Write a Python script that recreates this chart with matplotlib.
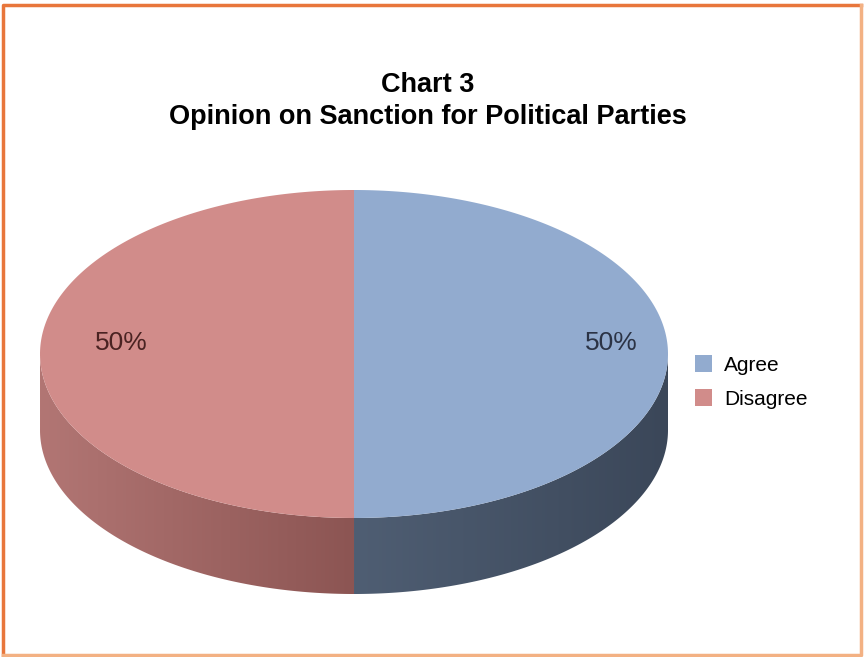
import numpy as np
import matplotlib
matplotlib.use("Agg")
import matplotlib.pyplot as plt
import matplotlib.patches as mpatches
from matplotlib.lines import Line2D
from matplotlib.colors import LinearSegmentedColormap

# datos
categorias = ["Agree", "Disagree"]
valores = [50, 50]
colores_top = ["#92abcf", "#d18c8a"]
colores_lado = [("#4f5e73", "#3b4759"), ("#b27674", "#8c5553")]   # (izq, der)
colores_label = ["#2b3345", "#4a2322"]
titulo = ["Chart 3", "Opinion on Sanction for Political Parties"]

W, H = 864, 657
fig = plt.figure(figsize=(W / 100, H / 100), dpi=100)
ax = fig.add_axes([0, 0, 1, 1])
ax.set_xlim(0, W)
ax.set_ylim(0, H)
ax.axis("off")

# geometría de la tarta 3D (en píxeles, y hacia arriba)
cx, cy = 354, H - 354
a, b = 314, 164
prof = 76


def arco(t1, t2, dy=0, n=200):
    t = np.radians(np.linspace(t1, t2, n))
    return np.column_stack([cx + a * np.cos(t), cy + b * np.sin(t) - dy])


total = sum(valores)
angulo = 90.0
tramos = []
for v in valores:
    t1 = angulo
    t2 = angulo - v / total * 360
    tramos.append((t1, t2))
    angulo = t2

# caras laterales (solo la mitad frontal)
for (t1, t2), (c_izq, c_der) in zip(tramos, colores_lado):
    lo, hi = min(t1, t2), max(t1, t2)
    segs = []
    for off in (0, -360, 360):
        s, e = max(lo + off, -180), min(hi + off, 0)
        if e > s:
            segs.append((s, e))
    for s, e in segs:
        top = arco(s, e)
        bot = arco(e, s, dy=prof)
        poly = np.vstack([top, bot])
        patch = mpatches.Polygon(poly, closed=True, facecolor="none", edgecolor="none")
        ax.add_patch(patch)
        cmap = LinearSegmentedColormap.from_list("lado", [c_izq, c_der])
        grad = np.linspace(0, 1, 256).reshape(1, -1)
        x0, x1 = poly[:, 0].min(), poly[:, 0].max()
        y0, y1 = poly[:, 1].min(), poly[:, 1].max()
        im = ax.imshow(grad, cmap=cmap, extent=[x0, x1, y0, y1], aspect="auto",
                       origin="lower", zorder=1)
        im.set_clip_path(patch)

# caras superiores
handles = []
for (t1, t2), col, cat in zip(tramos, colores_top, categorias):
    pts = np.vstack([[cx, cy], arco(t1, t2)])
    p = mpatches.Polygon(pts, closed=True, facecolor=col, edgecolor="none", zorder=2)
    ax.add_patch(p)
    handles.append(mpatches.Patch(facecolor=col, edgecolor="none", label=cat))

# etiquetas de porcentaje
for (t1, t2), v, col in zip(tramos, valores, colores_label):
    mid = np.radians((t1 + t2) / 2)
    x = cx + 12 + 0.78 * a * np.cos(mid)
    y = cy + 0.78 * b * np.sin(mid) + 11
    ax.text(x, y, f"{v / total * 100:.0f}%", ha="center", va="center",
            fontsize=19, color=col, family="Liberation Sans", zorder=3)

# título
ax.text(428, H - 85, titulo[0], ha="center", va="center", fontsize=19.5,
        fontweight="bold", family="Liberation Sans")
ax.text(428, H - 117, titulo[1], ha="center", va="center", fontsize=19.5,
        fontweight="bold", family="Liberation Sans")

# leyenda
leg = ax.legend(handles=handles, loc="center left", bbox_to_anchor=(676 / W, 1 - 382 / H),
                frameon=False, handlelength=0.85, handleheight=0.85, handletextpad=0.55,
                labelspacing=0.7, prop={"family": "Liberation Sans", "size": 15})

# borde naranja
x0, x1 = 3 / W, 861 / W
y0, y1 = 1 - 655 / H, 1 - 5 / H
fig.lines.append(Line2D([x0, x0, x1], [y0, y1, y1], transform=fig.transFigure,
                        color="#e8763b", linewidth=2.5))
fig.lines.append(Line2D([x0, x1, x1], [y0, y0, y1], transform=fig.transFigure,
                        color="#f3b183", linewidth=2.5))

plt.savefig("out.png", dpi=100)
